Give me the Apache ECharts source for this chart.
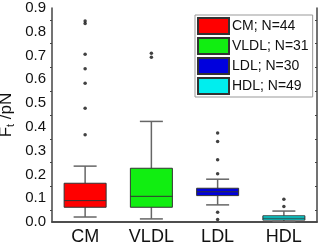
<!DOCTYPE html>
<html>
<head>
<meta charset="utf-8">
<script src="https://cdn.jsdelivr.net/npm/echarts@6/dist/echarts.min.js"></script>
<style>
html,body{margin:0;padding:0;background:#fff;}
#chart{width:320px;height:248px;}
</style>
</head>
<body>
<div id="chart"></div>
<script>
// categories and legend names
var categories = ['CM', 'VLDL', 'LDL', 'HDL'];
var legendNames = ['CM; N=44', 'VLDL; N=31', 'LDL; N=30', 'HDL; N=49'];
// box statistics: min, q1, median, q3, max
var boxCM   = [0.021, 0.062, 0.090, 0.163, 0.235];
var boxVLDL = [0.013, 0.062, 0.108, 0.226, 0.423];
var boxLDL  = [0.072, 0.111, 0.127, 0.142, 0.180];
var boxHDL  = [0.002, 0.008, 0.016, 0.026, 0.046];
// outliers
var outCM   = [0.367, 0.478, 0.584, 0.644, 0.705, 0.835, 0.845];
var outVLDL = [0.693, 0.710];
var outLDL  = [0.374, 0.339, 0.262, 0.203, 0.041, 0.011];
var outHDL  = [0.096, 0.065];
// y ticks
var yMin = 0, yMax = 0.9, yStep = 0.1;

var boxColors = ['#ff0000', '#11ee11', '#0000dd', '#00eeee'];

var chart = echarts.init(document.getElementById('chart'));

var boxes = [boxCM, boxVLDL, boxLDL, boxHDL];
var outs = [outCM, outVLDL, outLDL, outHDL];
var boxData = boxes.map(function (b, i) { return [i].concat(b); });
var outData = [];
outs.forEach(function (arr, i) {
	arr.forEach(function (v) { outData.push([i, v]); });
});

var axisColor = '#444';

var option = {
	animation: false,
	grid: { left: 52, right: 3, top: 8, bottom: 26, outerBoundsMode: 'none' },
	legend: {
		data: legendNames,
		orient: 'vertical',
		left: 195,
		top: 15,
		itemWidth: 31,
		itemHeight: 16,
		itemGap: 2,
		padding: [2, 4, 2, 2],
		borderColor: '#999',
		borderWidth: 1,
		backgroundColor: '#fff',
		icon: 'rect',
		selectedMode: false,
		textStyle: { fontFamily: 'Liberation Sans', fontSize: 14, color: '#111', padding: [0, 0, 0, -2] }
	},
	xAxis: [{
		type: 'category',
		data: categories,
		axisLine: { lineStyle: { color: axisColor, width: 1.5 } },
		axisTick: { alignWithLabel: true, length: 4, lineStyle: { color: axisColor } },
		axisLabel: { fontFamily: 'Liberation Sans', fontSize: 18, color: '#111', margin: 6 },
		splitLine: { show: false }
	}, {
		type: 'category',
		position: 'top',
		data: categories,
		axisLine: { lineStyle: { color: axisColor, width: 1.5 } },
		axisTick: { alignWithLabel: true, inside: true, length: 4, lineStyle: { color: axisColor } },
		axisLabel: { show: false },
		splitLine: { show: false }
	}],
	yAxis: [{
		type: 'value',
		min: yMin, max: yMax, interval: yStep,
		name: '{a|F}{s|t}{a| /pN}',
		nameLocation: 'middle',
		nameGap: 36,
		nameMoveOverlap: false,
		nameTextStyle: {
			rich: {
				a: { fontFamily: 'Liberation Sans', fontSize: 17, color: '#111' },
				s: { fontFamily: 'Liberation Sans', fontSize: 11, color: '#111', verticalAlign: 'bottom', padding: [8, 0, 0, 0] }
			}
		},
		axisLine: { show: true, lineStyle: { color: axisColor, width: 1.5 } },
		axisTick: { length: 4, lineStyle: { color: axisColor } },
		minorTick: { show: true, splitNumber: 2, length: 2, lineStyle: { color: axisColor } },
		axisLabel: {
			fontFamily: 'Liberation Sans', fontSize: 15, color: '#111', margin: 6,
			formatter: function (v) { return v.toFixed(1); }
		},
		splitLine: { show: false }
	}, {
		type: 'value',
		position: 'right',
		min: yMin, max: yMax, interval: yStep,
		axisLine: { show: true, lineStyle: { color: axisColor, width: 1.5 } },
		axisTick: { inside: true, length: 4, lineStyle: { color: axisColor } },
		minorTick: { show: true, splitNumber: 2, length: 2, lineStyle: { color: axisColor } },
		axisLabel: { show: false },
		splitLine: { show: false }
	}],
	series: [
		{ name: legendNames[0], type: 'bar', data: [], itemStyle: { color: boxColors[0], borderColor: '#333', borderWidth: 1 } },
		{ name: legendNames[1], type: 'bar', data: [], itemStyle: { color: boxColors[1], borderColor: '#333', borderWidth: 1 } },
		{ name: legendNames[2], type: 'bar', data: [], itemStyle: { color: boxColors[2], borderColor: '#333', borderWidth: 1 } },
		{ name: legendNames[3], type: 'bar', data: [], itemStyle: { color: boxColors[3], borderColor: '#333', borderWidth: 1 } },
		{
			type: 'custom',
			encode: { x: 0, y: [1, 2, 3, 4, 5] },
			data: boxData,
			renderItem: function (params, api) {
				var c = api.value(0);
				var pMin = api.coord([c, api.value(1)]);
				var pQ1 = api.coord([c, api.value(2)]);
				var pMed = api.coord([c, api.value(3)]);
				var pQ3 = api.coord([c, api.value(4)]);
				var pMax = api.coord([c, api.value(5)]);
				var x = pMin[0];
				var bw = 42, cw = 23;
				var wStyle = { stroke: '#666', lineWidth: 1.5 };
				return {
					type: 'group',
					children: [
						{ type: 'line', shape: { x1: x, y1: pQ3[1], x2: x, y2: pMax[1] }, style: wStyle },
						{ type: 'line', shape: { x1: x, y1: pQ1[1], x2: x, y2: pMin[1] }, style: wStyle },
						{ type: 'line', shape: { x1: x - cw / 2, y1: pMax[1], x2: x + cw / 2, y2: pMax[1] }, style: wStyle },
						{ type: 'line', shape: { x1: x - cw / 2, y1: pMin[1], x2: x + cw / 2, y2: pMin[1] }, style: wStyle },
						{ type: 'rect', shape: { x: x - bw / 2, y: pQ3[1], width: bw, height: pQ1[1] - pQ3[1] },
							style: { fill: boxColors[c], stroke: '#333', lineWidth: 1 } },
						{ type: 'line', shape: { x1: x - bw / 2, y1: pMed[1], x2: x + bw / 2, y2: pMed[1] },
							style: { stroke: '#333', lineWidth: 1 } }
					]
				};
			}
		},
		{
			type: 'scatter',
			data: outData,
			symbol: 'circle',
			symbolSize: 3.5,
			itemStyle: { color: '#111' }
		}
	]
};
chart.setOption(option);
</script>
</body>
</html>
